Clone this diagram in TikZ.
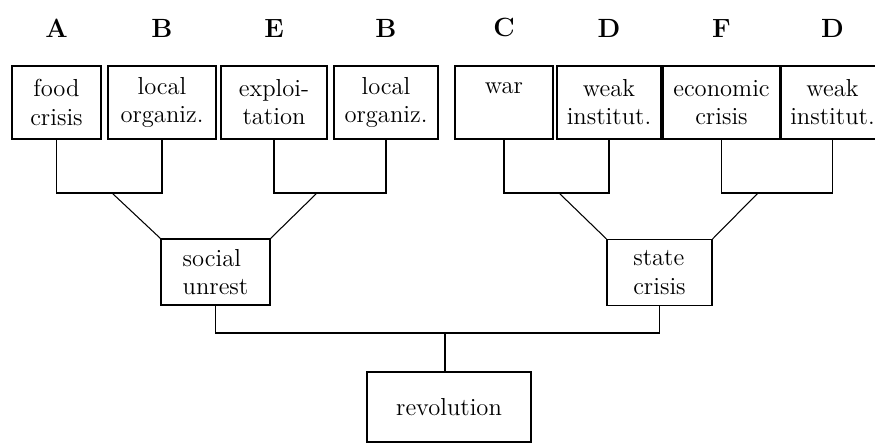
\documentclass[tikz,border=0pt]{standalone}
\usetikzlibrary{positioning}
\begin{document}
\begin{tikzpicture}[
    x=0.02cm, y=-0.02cm,
    box/.style={draw, line width=0.6pt, font=\fontsize{14}{16}\selectfont, minimum height=1.46cm, inner sep=2pt, align=center},
    midbox/.style={box, align=flush left, minimum height=1.32cm},
    factor/.style={font=\fontsize{15}{18}\selectfont\bfseries, above=0.44cm of #1},
    link/.style={draw, line width=0.6pt}
]
    \useasboundingbox (0,0) rectangle (875,443);

    % causal factors
    \node[box, minimum width=1.78cm] (food) at (56.5,102.5) {food\\crisis};
    \node[box, minimum width=2.16cm] (org1) at (162,102.5) {local\\organiz.};
    \node[box, minimum width=2.12cm] (exploit) at (274,102.5) {exploi-\\tation};
    \node[box, minimum width=2.08cm] (org2) at (386,102.5) {local\\organiz.};
    \node[box, minimum width=1.96cm] (war) at (504,102.5) {war\\\mbox{}};
    \node[box, minimum width=2.08cm] (weak1) at (609,102.5) {weak\\institut.};
    \node[box, minimum width=2.34cm] (econ) at (721.5,102.5) {economic\\crisis};
    \node[box, minimum width=2.06cm] (weak2) at (832.5,102.5) {weak\\institut.};

    \node[factor=food] {A};
    \node[factor=org1] {B};
    \node[factor=exploit] {E};
    \node[factor=org2] {B};
    \node[factor=war] {C};
    \node[factor=weak1] {D};
    \node[factor=econ] {F};
    \node[factor=weak2] {D};

    % intermediate and final outcomes
    \node[midbox, minimum width=2.18cm] (unrest) at (215.5,272) {social\\unrest};
    \node[midbox, minimum width=2.1cm] (state) at (659.5,272.5) {state\\crisis};
    \node[box, minimum width=3.28cm, minimum height=1.4cm] (revol) at (449,407) {revolution};

    \coordinate (jA) at (112,193);
    \coordinate (jB) at (317,193);
    \coordinate (jC) at (559,193);
    \coordinate (jD) at (758,193);
    \coordinate (jR) at (445,333);

    \path[link] (food.south) |- (jA) -| (org1.south);
    \path[link] (exploit.south) |- (jB) -| (org2.south);
    \path[link] (war.south) |- (jC) -| (weak1.south);
    \path[link] (econ.south) |- (jD) -| (weak2.south);
    \path[link] (jA) -- (unrest.north west);
    \path[link] (jB) -- (unrest.north east);
    \path[link] (jC) -- (state.north west);
    \path[link] (jD) -- (state.north east);
    \path[link] (unrest.south) |- (jR) -| (state.south);
    \path[link] (jR) -- (jR |- revol.north);
\end{tikzpicture}
\end{document}
